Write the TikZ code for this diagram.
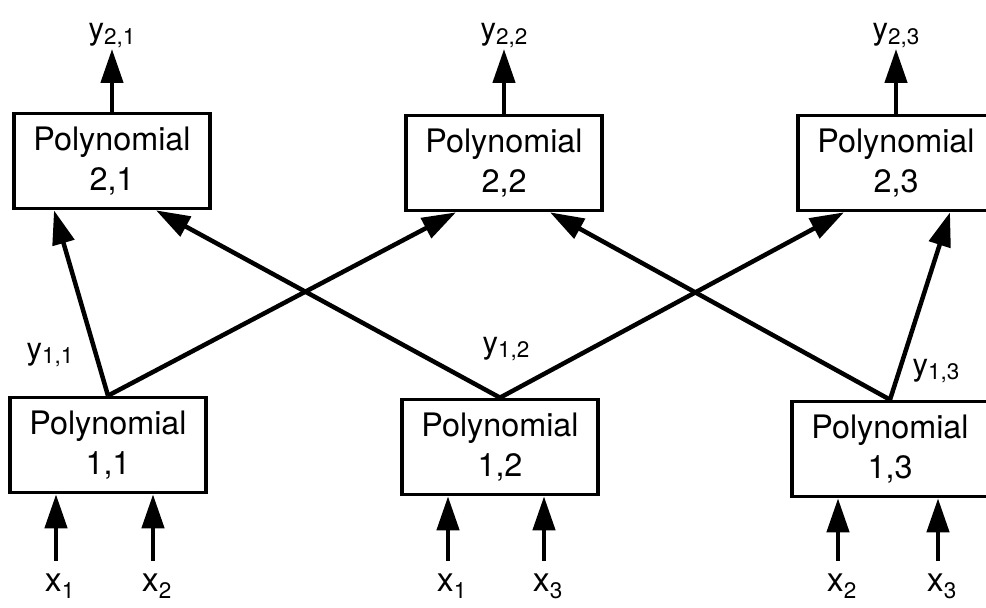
\documentclass[tikz,border=0pt]{standalone}
\usepackage{fontspec}
\setmainfont{TeX Gyre Heros}
\usetikzlibrary{arrows.meta}

% lowered index for the signal names
\newcommand\lowidx[2][-0.3ex]{\raisebox{#1}{\fontsize{16}{16}\selectfont #2}}

\tikzset{
  poly/.style={draw, line width=2.6pt, minimum width=4.9cm, minimum height=2.375cm,
    align=center, inner sep=0pt, font=\fontsize{23}{28}\selectfont},
  link/.style={line width=3.2pt, -{Triangle[length=0.85cm,width=0.55cm]}},
  sig/.style={inner sep=1pt, font=\fontsize{22}{24}\selectfont},
  insig/.style={inner sep=1pt, font=\fontsize{24}{26}\selectfont}
}

\begin{document}
\begin{tikzpicture}
\useasboundingbox (0,0) rectangle (24.65,15.175);
% Second layer
\node[poly] (p21) at (2.8,11.15) {Polynomial\\2,1};
\node[poly] (p22) at (12.6,11.1) {Polynomial\\2,2};
\node[poly] (p23) at (22.4,11.1) {Polynomial\\2,3};
% First layer
\node[poly] (p11) at (2.7,4.05) {Polynomial\\1,1};
\node[poly] (p12) at (12.5,4.0) {Polynomial\\1,2};
\node[poly] (p13) at (22.25,3.95) {Polynomial\\1,3};
% Outputs of the second layer
\foreach \n/\i in {21/1,22/2,23/3}{
  \coordinate (o\n) at (p\n.north |- 0,13.95);
  \draw[link] (p\n.north) -- (o\n);
  \node[sig, above] (y\n) at (o\n) {y\lowidx{2,\i}};
}
% First layer feeds the second
\draw[link] (p11.north) -- ([xshift=-1.45cm]p21.south);
\draw[link] (p11.north) -- ([xshift=-1.2cm]p22.south);
\draw[link] (p12.north) -- ([xshift=1.1cm]p21.south);
\draw[link] (p12.north) -- ([xshift=-1.3cm]p23.south);
\draw[link] (p13.north) -- ([xshift=1.15cm]p22.south);
\draw[link] (p13.north) -- ([xshift=1.35cm]p23.south);
\node[sig] (y11) at (1.25,6.3) {y\lowidx{1,1}};
\node[sig] (y12) at (12.65,6.45) {y\lowidx{1,2}};
\node[sig] (y13) at (23.4,5.9) {y\lowidx{1,3}};
% Inputs
\foreach \n/\b/\px/\i in {11a/p11/1.4/1, 11b/p11/3.825/2,
                          12a/p12/11.2/1, 12b/p12/13.6/3,
                          13a/p13/20.95/2, 13b/p13/23.45/3}{
  \coordinate (f\n) at (\px,1.15);
  \draw[link] (f\n) -- (f\n |- \b.south);
  \node[insig, anchor=base west] (x\n) at ([xshift=-0.32cm]\px,0.38) {x\lowidx[-0.4ex]{\i}};
}
\end{tikzpicture}
\end{document}
